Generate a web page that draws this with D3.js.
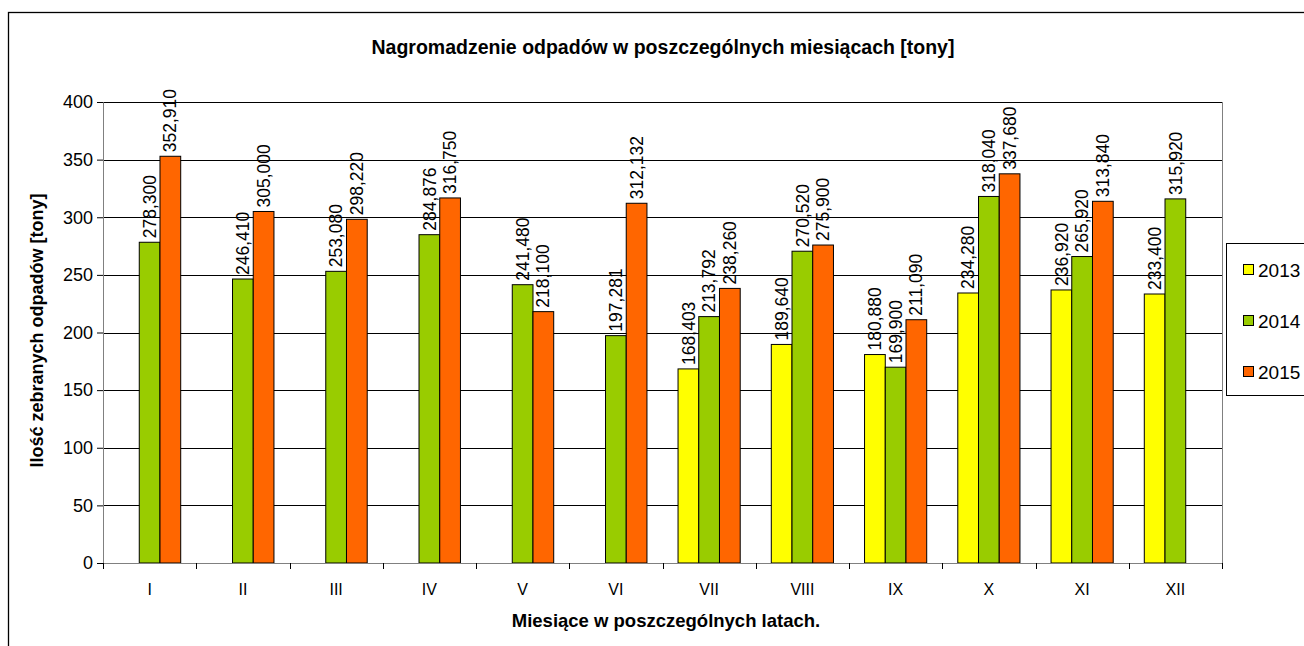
<!DOCTYPE html>
<html>
<head>
<meta charset="utf-8">
<script src="https://cdn.jsdelivr.net/npm/d3@7"></script>
<style>
	body { margin: 0; background: #fff; }
	svg text { font-family: "Liberation Sans", Arial, sans-serif; fill: #000; }
</style>
</head>
<body>
<div id="chart"></div>
<script>
// months (roman numerals) and yearly series
var months = ["I", "II", "III", "IV", "V", "VI", "VII", "VIII", "IX", "X", "XI", "XII"];
var years = ["2013", "2014", "2015"];
var colors = ["#ffff00", "#99cc00", "#ff6600"];

var v2013 = [null, null, null, null, null, null, 168.403, 189.640, 180.880, 234.280, 236.920, 233.400];
var v2014 = [278.300, 246.410, 253.080, 284.876, 241.480, 197.281, 213.792, 270.520, 169.900, 318.040, 265.920, 315.920];
var v2015 = [352.910, 305.000, 298.220, 316.750, 218.100, 312.132, 238.260, 275.900, 211.090, 337.680, 313.840, null];

var yTicks = [0, 50, 100, 150, 200, 250, 300, 350, 400];

var series = [v2013, v2014, v2015];

var W = 1304, H = 646;
var plot = { left: 103, right: 1222, top: 102, bottom: 563 };

var svg = d3.select("#chart").append("svg")
	.attr("width", W)
	.attr("height", H);

// outer chart border (cut by the window on right / bottom)
svg.append("rect")
	.attr("x", 8.5).attr("y", 12.5)
	.attr("width", 1400).attr("height", 700)
	.attr("fill", "#fff")
	.attr("stroke", "#000")
	.attr("stroke-width", 1.3);

var x = d3.scaleBand()
	.domain(months)
	.range([plot.left, plot.right])
	.paddingInner(0)
	.paddingOuter(0);

var xInner = d3.scaleBand()
	.domain(years)
	.range([0, x.bandwidth()])
	.paddingOuter(0.75)
	.paddingInner(0);

var y = d3.scaleLinear()
	.domain([0, 400])
	.range([plot.bottom, plot.top]);

// gridlines
svg.append("g")
	.selectAll("line")
	.data(yTicks.filter(function(d) { return d > 0; }))
	.enter()
	.append("line")
	.attr("x1", plot.left).attr("x2", plot.right)
	.attr("y1", function(d) { return Math.round(y(d)) + 0.5; })
	.attr("y2", function(d) { return Math.round(y(d)) + 0.5; })
	.attr("stroke", "#000")
	.attr("stroke-width", 1);

// plot right border
svg.append("line")
	.attr("x1", plot.right + 0.5).attr("x2", plot.right + 0.5)
	.attr("y1", plot.top).attr("y2", plot.bottom)
	.attr("stroke", "#808080");

// bars
var flat = [];
months.forEach(function(m, i) {
	series.forEach(function(s, j) {
		if (s[i] != null) flat.push({ month: m, year: years[j], value: s[i], color: colors[j] });
	});
});

svg.append("g")
	.selectAll("rect")
	.data(flat)
	.enter()
	.append("rect")
	.attr("x", function(d) { return x(d.month) + xInner(d.year); })
	.attr("y", function(d) { return y(d.value); })
	.attr("width", xInner.bandwidth())
	.attr("height", function(d) { return plot.bottom - y(d.value); })
	.attr("fill", function(d) { return d.color; })
	.attr("stroke", "#000")
	.attr("stroke-width", 1);

// value labels
var fmt = function(v) { return d3.format(".3f")(v).replace(".", ","); };

svg.append("g")
	.selectAll("text")
	.data(flat)
	.enter()
	.append("text")
	.attr("transform", function(d) {
		var cx = x(d.month) + xInner(d.year) + xInner.bandwidth() / 2;
		return "translate(" + cx + "," + (y(d.value) - 4) + ") rotate(-90)";
	})
	.attr("dy", "0.35em")
	.attr("font-size", "17.5px")
	.text(function(d) { return fmt(d.value); });

// y axis
var yAxis = svg.append("g")
	.attr("transform", "translate(" + plot.left + ",0)")
	.call(d3.axisLeft(y).tickValues(yTicks).tickSize(6).tickPadding(4));
yAxis.select(".domain").attr("stroke", "#808080");
yAxis.selectAll(".tick line").attr("stroke", "#000");
yAxis.selectAll("text").attr("font-size", "18px").attr("font-family", null);

// x axis
var xAxis = svg.append("g")
	.attr("transform", "translate(0," + plot.bottom + ")")
	.call(d3.axisBottom(x).tickSize(0).tickPadding(21));
xAxis.select(".domain").attr("stroke", "#808080");
xAxis.selectAll("text").attr("font-size", "16px").attr("font-family", null);

// category separator ticks
svg.append("g")
	.selectAll("line")
	.data(months.concat(["end"]))
	.enter()
	.append("line")
	.attr("x1", function(d, i) { return Math.round(plot.left + i * x.bandwidth()) + 0.5; })
	.attr("x2", function(d, i) { return Math.round(plot.left + i * x.bandwidth()) + 0.5; })
	.attr("y1", plot.bottom).attr("y2", plot.bottom + 6)
	.attr("stroke", "#000");

// titles
svg.append("text")
	.attr("x", 663).attr("y", 54)
	.attr("text-anchor", "middle")
	.attr("font-weight", "bold")
	.attr("font-size", "19.5px")
	.text("Nagromadzenie odpadów w poszczególnych miesiącach [tony]");

svg.append("text")
	.attr("x", 666).attr("y", 627)
	.attr("text-anchor", "middle")
	.attr("font-weight", "bold")
	.attr("font-size", "18.5px")
	.text("Miesiące w poszczególnych latach.");

svg.append("text")
	.attr("transform", "translate(43," + ((plot.top + plot.bottom) / 2 - 2) + ") rotate(-90)")
	.attr("text-anchor", "middle")
	.attr("font-weight", "bold")
	.attr("font-size", "18px")
	.text("Ilość zebranych odpadów [tony]");

// legend
var legend = svg.append("g");
legend.append("rect")
	.attr("x", 1226.5).attr("y", 243.5)
	.attr("width", 200).attr("height", 152)
	.attr("fill", "#fff")
	.attr("stroke", "#000");

var items = legend.selectAll("g.item")
	.data(years)
	.enter()
	.append("g")
	.attr("class", "item")
	.attr("transform", function(d, i) { return "translate(1243," + (270 + i * 51) + ")"; });

items.append("rect")
	.attr("x", 0.5).attr("y", -5.5)
	.attr("width", 10).attr("height", 10)
	.attr("fill", function(d, i) { return colors[i]; })
	.attr("stroke", "#000");

items.append("text")
	.attr("x", 15).attr("dy", "0.35em")
	.attr("font-size", "19px")
	.text(function(d) { return d; });
</script>
</body>
</html>
